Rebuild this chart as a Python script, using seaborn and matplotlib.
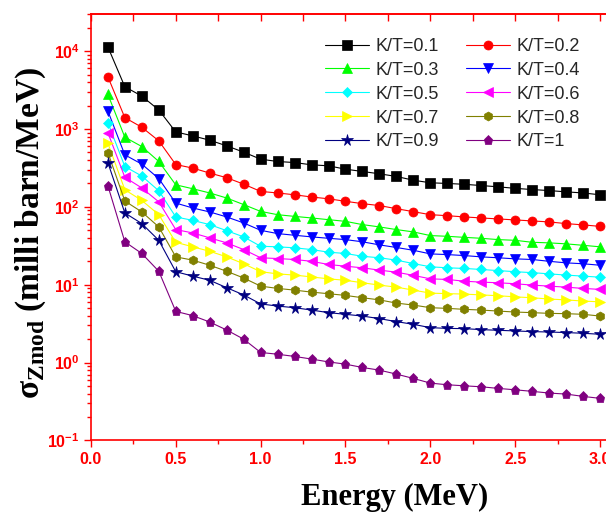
import numpy as np
import pandas as pd
import matplotlib
matplotlib.use("Agg")
import matplotlib.pyplot as plt
import seaborn as sns
from matplotlib.ticker import MultipleLocator, FormatStrFormatter, FuncFormatter, LogLocator

# energy grid (MeV)
energy = [0.1, 0.2, 0.3, 0.4, 0.5, 0.6, 0.7, 0.8, 0.9, 1.0,
          1.1, 1.2, 1.3, 1.4, 1.5, 1.6, 1.7, 1.8, 1.9, 2.0,
          2.1, 2.2, 2.3, 2.4, 2.5, 2.6, 2.7, 2.8, 2.9, 3.0]

# sigma_Zmod (milli barn/MeV)
kt_01 = [11350, 3490, 2650, 1757, 918, 817, 719, 608, 505, 410,
         383, 371, 347, 337, 305, 285, 266, 246, 220, 204,
         200, 195, 188, 181, 173, 167, 162, 156, 151, 143]
kt_02 = [4690, 1400, 1054, 705, 350, 315, 272, 237, 196, 158,
         151, 143, 134, 127, 118, 110, 104, 94.8, 86.8, 79.4,
         77.1, 74.3, 72.1, 70.0, 68.0, 66.0, 64.1, 61.0, 58.7, 56.2]
kt_03 = [2790, 785, 596, 383, 192, 171, 151, 130, 107, 87.5,
         79.4, 75.5, 72.1, 68.5, 65.2, 59.2, 55.3, 51.1, 47.7, 42.8,
         41.9, 40.6, 39.5, 38.0, 37.2, 35.1, 34.5, 33.5, 32.1, 30.7]
kt_04 = [1706, 466, 354, 231, 112, 96.8, 86.1, 74.3, 62.2, 50.0,
         45.4, 43.2, 41.2, 39.5, 38.0, 35.6, 32.5, 30.1, 27.7, 24.9,
         24.4, 23.7, 22.8, 22.2, 21.5, 21.1, 20.0, 19.1, 18.6, 17.8]
kt_05 = [1208, 330, 249, 161, 74.3, 67.1, 59.2, 49.5, 41.2, 31.2,
         30.7, 29.8, 28.3, 26.2, 25.2, 23.2, 22.2, 20.7, 18.7, 17.0,
         16.5, 16.2, 15.7, 15.2, 14.7, 14.3, 13.8, 13.3, 12.9, 12.5]
kt_06 = [899, 240, 175, 116, 51.1, 46.3, 40.0, 34.5, 28.3, 22.2,
         21.7, 21.1, 20.0, 18.2, 17.3, 16.5, 15.4, 14.5, 13.2, 11.9,
         11.7, 11.1, 10.8, 10.6, 10.3, 9.89, 9.60, 9.31, 8.97, 8.71]
kt_07 = [658, 166, 121, 79.4, 35.1, 30.7, 26.9, 22.8, 18.6, 14.7,
         13.8, 13.3, 12.6, 11.9, 11.4, 10.6, 9.89, 9.31, 8.53, 7.80,
         7.69, 7.58, 7.40, 7.23, 6.98, 6.81, 6.55, 6.39, 6.17, 6.03]
kt_08 = [499, 119, 86.1, 55.3, 22.8, 20.7, 17.8, 14.9, 12.2, 9.60,
         8.97, 8.53, 8.04, 7.67, 7.29, 6.81, 6.39, 5.81, 5.48, 5.07,
         4.97, 4.83, 4.73, 4.59, 4.46, 4.38, 4.29, 4.25, 4.17, 3.96]
kt_09 = [371, 83.6, 61.0, 37.2, 14.7, 12.9, 11.4, 9.16, 7.40, 5.67,
         5.32, 5.07, 4.73, 4.38, 4.17, 3.96, 3.67, 3.36, 3.10, 2.81,
         2.75, 2.73, 2.65, 2.60, 2.55, 2.50, 2.47, 2.43, 2.38, 2.31]
kt_10 = [187, 35.6, 25.2, 14.9, 4.55, 4.01, 3.32, 2.62, 2.00, 1.35,
         1.28, 1.20, 1.11, 1.02, 0.955, 0.865, 0.80, 0.711, 0.626, 0.545,
         0.519, 0.503, 0.489, 0.466, 0.447, 0.427, 0.406, 0.394, 0.368, 0.347]

labels = ["K/T=0.1", "K/T=0.2", "K/T=0.3", "K/T=0.4", "K/T=0.5",
          "K/T=0.6", "K/T=0.7", "K/T=0.8", "K/T=0.9", "K/T=1"]
series = [kt_01, kt_02, kt_03, kt_04, kt_05, kt_06, kt_07, kt_08, kt_09, kt_10]
colors = ["#000000", "#FF0000", "#00FF00", "#0000FF", "#00FFFF",
          "#FF00FF", "#FFFF00", "#808000", "#000080", "#800080"]
markers = ["s", "o", "^", "v", "D", "<", ">", "h", "*", "p"]

df = pd.concat([pd.DataFrame({"energy": energy, "sigma": s, "curve": lab})
                for s, lab in zip(series, labels)], ignore_index=True)

sns.set_theme(style="white")
plt.rcParams["font.family"] = ["Liberation Sans", "DejaVu Sans"]
plt.rcParams["mathtext.fontset"] = "custom"
plt.rcParams["mathtext.rm"] = "Liberation Serif"
plt.rcParams["mathtext.bf"] = "Liberation Serif:bold"
plt.rcParams["mathtext.sf"] = "Liberation Sans:bold"

fig = plt.figure(figsize=(6.06, 5.2), dpi=100)
ax = fig.add_axes([0.150, 0.153, 0.850, 0.820])

sns.lineplot(data=df, x="energy", y="sigma", hue="curve", style="curve",
             hue_order=labels, style_order=labels, palette=colors,
             markers=markers, dashes=False, linewidth=0.8, markersize=6.5,
             ax=ax)


def fix_marker(line):
    line.set_markeredgecolor(line.get_color())
    line.set_markeredgewidth(0.5)
    if line.get_marker() == "*":
        line.set_markersize(8.5)
    elif line.get_marker() in ("^", "v", "<", ">"):
        line.set_markersize(7.5)
    elif line.get_marker() == "D":
        line.set_markersize(5.5)


for line in ax.lines:
    fix_marker(line)

ax.set_yscale("log")
ax.set_xlim(0, 3.035)
ax.set_ylim(0.1, 3e4)

red = "#FF0000"
for side in ["left", "bottom", "top"]:
    ax.spines[side].set_color(red)
    ax.spines[side].set_linewidth(1.2)
ax.spines["right"].set_visible(False)

ax.xaxis.set_major_locator(MultipleLocator(0.5))
ax.xaxis.set_minor_locator(MultipleLocator(0.25))
ax.xaxis.set_major_formatter(FormatStrFormatter("%.1f"))
ax.yaxis.set_major_locator(LogLocator(base=10, numticks=12))
ax.yaxis.set_minor_locator(LogLocator(base=10, subs=np.arange(2, 10), numticks=12))
ax.yaxis.set_major_formatter(FuncFormatter(lambda v, p: r"$\mathsf{10^{%d}}$" % round(np.log10(v))))

ax.tick_params(axis="both", which="both", direction="out", color=red,
               labelcolor=red, width=1.0, bottom=True, left=True, top=False, right=False)
ax.tick_params(axis="both", which="major", length=5, pad=3)
ax.tick_params(axis="both", which="minor", length=3)
for t in ax.get_xticklabels():
    t.set_fontweight("bold")
    t.set_fontsize(11.5)
for t in ax.get_yticklabels():
    t.set_fontsize(11.5)

top = ax.secondary_xaxis("top")
top.xaxis.set_major_locator(MultipleLocator(0.25))
top.tick_params(direction="in", length=5, width=1.0, color=red, labeltop=False)
top.spines["top"].set_color(red)
top.spines["top"].set_linewidth(1.2)

ax.set_xlabel("Energy (MeV)", fontfamily="Liberation Serif", fontweight="bold",
              fontsize=22, color="black")
ax.xaxis.set_label_coords(0.59, -0.10)
ax.set_ylabel(r"σ$_{\mathbf{Zmod}}$ (milli barn/MeV)", fontfamily="Liberation Serif",
              fontweight="bold", fontsize=24, color="black")
ax.yaxis.set_label_coords(-0.083, 0.487)

# legend filled row by row like the original (matplotlib fills by column)
leg = ax.get_legend()
handles = list(leg.legend_handles)
texts = [t.get_text() for t in leg.texts]
for h in handles:
    fix_marker(h)
    h.set_linewidth(0.8)
order = [0, 2, 4, 6, 8, 1, 3, 5, 7, 9]
leg.remove()
ax.legend([handles[i] for i in order], [texts[i] for i in order],
          loc="upper left", bbox_to_anchor=(0.455, 0.944), ncol=2,
          frameon=False, fontsize=13, handlelength=2.4,
          handletextpad=0.4, columnspacing=1.5, labelspacing=0.38,
          borderpad=0, borderaxespad=0)

fig.savefig("out.png", dpi=100)
